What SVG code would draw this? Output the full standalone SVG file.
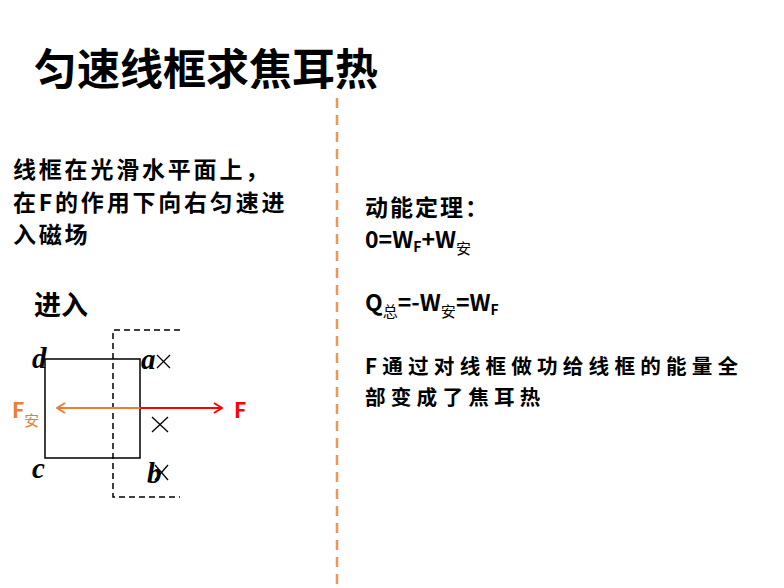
<svg xmlns="http://www.w3.org/2000/svg" width="784" height="588" viewBox="0 0 784 588">
<style>
.cjk{font-family:"Noto Sans CJK SC","Liberation Sans",sans-serif;font-weight:bold;fill:#000}
.lbl{font-family:"Liberation Serif",serif;font-weight:bold;font-style:italic;font-size:29px;fill:#000}
.sub{font-size:14px}
</style>
<defs>
<marker id="hOr" markerWidth="12" markerHeight="12" refX="11" refY="6" orient="auto" markerUnits="userSpaceOnUse">
<path d="M3,1 L11,6 L3,11" fill="none" stroke="#ED7D31" stroke-width="2"/>
</marker>
<marker id="hRed" markerWidth="12" markerHeight="12" refX="11" refY="6" orient="auto" markerUnits="userSpaceOnUse">
<path d="M3,1 L11,6 L3,11" fill="none" stroke="#FF0000" stroke-width="2"/>
</marker>
</defs>
<rect width="784" height="588" fill="#fff"/>
<g id="title"><text class="cjk" x="34" y="85" font-size="43">匀速线框求焦耳热</text></g>
<g id="divider"><line x1="337" y1="98" x2="337" y2="588" stroke="#F0955A" stroke-width="2.5" stroke-dasharray="10,7"/></g>
<g id="left-text" class="cjk" font-size="23" letter-spacing="2.8">
<text x="13" y="178">线框在光滑水平面上，</text>
<text x="13" y="211">在F的作用下向右匀速进</text>
<text x="13" y="243">入磁场</text>
</g>
<g id="enter-label"><text class="cjk" x="34" y="315" font-size="27">进入</text></g>
<g id="field">
<path d="M180,330 H113 V497 H180" fill="none" stroke="#000" stroke-width="1.5" stroke-dasharray="6,4"/>
<g stroke="#000" stroke-width="1.3">
<line x1="157" y1="355" x2="170" y2="368"/><line x1="170" y1="355" x2="157" y2="368"/>
<line x1="152" y1="417" x2="168" y2="432"/><line x1="168" y1="417" x2="152" y2="432"/>
<line x1="155" y1="465" x2="168" y2="480"/><line x1="168" y1="465" x2="155" y2="480"/>
</g>
</g>
<g id="frame">
<rect x="45" y="359" width="95" height="99" fill="none" stroke="#000" stroke-width="1.5"/>
<text class="lbl" x="32" y="368">d</text>
<text class="lbl" x="141" y="369">a</text>
<text class="lbl" x="32" y="478">c</text>
<text class="lbl" x="147" y="483">b</text>
</g>
<g id="connectors">
<line x1="140" y1="408" x2="57" y2="408" stroke="#ED7D31" stroke-width="2" marker-end="url(#hOr)"/>
<line x1="140" y1="408" x2="222" y2="408" stroke="#FF0000" stroke-width="2" marker-end="url(#hRed)"/>
</g>
<g id="force-labels" font-family="'Noto Sans CJK SC','Liberation Sans',sans-serif" font-weight="bold">
<text x="12" y="418" font-size="21" fill="#ED7D31">F<tspan font-size="15" font-weight="normal" dy="8">安</tspan></text>
<text x="234" y="418" font-size="21" fill="#FF0000">F</text>
</g>
<g id="right-text" class="cjk" font-size="23">
<text x="365" y="216" letter-spacing="2">动能定理：</text>
<text x="365" y="248">0=W<tspan class="sub" dy="4">F</tspan><tspan dy="-4">+W</tspan><tspan font-size="15" font-weight="normal" dy="6">安</tspan></text>
<text x="365" y="311">Q<tspan font-size="15" font-weight="normal" dy="6">总</tspan><tspan dy="-6">=-W</tspan><tspan font-size="15" font-weight="normal" dy="6">安</tspan><tspan dy="-6">=W</tspan><tspan class="sub" dy="4">F</tspan></text>
<text x="365" y="374" font-size="20.6" letter-spacing="5.2">F通过对线框做功给线框的能量全</text>
<text x="365" y="405" font-size="20.6" letter-spacing="5.2">部变成了焦耳热</text>
</g>
</svg>
